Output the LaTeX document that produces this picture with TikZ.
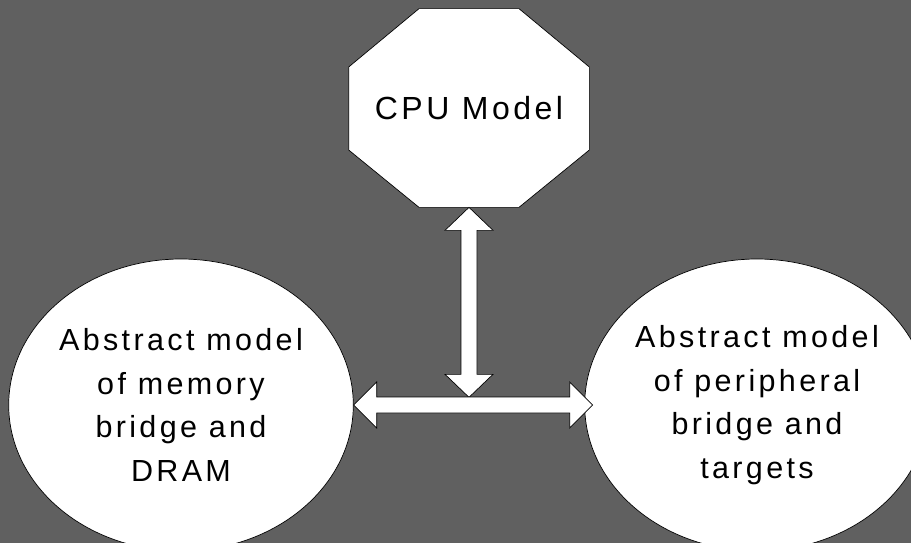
\documentclass[tikz,border=0pt]{standalone}
\usepackage{fontspec}
\setmainfont{Liberation Sans}[LetterSpace=11]
\usetikzlibrary{shapes.geometric}
\definecolor{bggray}{RGB}{96,96,96}
\tikzset{
  bubble/.style={ellipse, draw=black, fill=white, inner sep=0pt,
    minimum width=338pt, minimum height=292pt, align=center},
  blockarrow/.style={draw=black, fill=white, line width=0.7pt, line join=miter}
}
\begin{document}
\begin{tikzpicture}[x=1pt, y=-1pt, line width=0.7pt,
    font=\fontsize{30.5}{43.7}\selectfont]
    % Fondo
    \fill[bggray] (0,0) rectangle (911,543);
    \useasboundingbox (0,0) rectangle (911,543);
    \clip (0,0) rectangle (911,543);

    % Nodos
    \node[minimum width=240pt, minimum height=198pt, inner sep=0pt] (cpu) at (469,108) {};
    \draw[fill=white] ([xshift=-50pt]cpu.north) -- ([xshift=50pt]cpu.north)
        -- ([yshift=41pt]cpu.east) -- ([yshift=-42pt]cpu.east)
        -- ([xshift=50pt]cpu.south) -- ([xshift=-50pt]cpu.south)
        -- ([yshift=-42pt]cpu.west) -- ([yshift=41pt]cpu.west) -- cycle;
    \node[font=\fontsize{32}{40}\selectfont] at (cpu.center) {CPU Model};

    \node[bubble] (mem) at (181,405) {Abstract model\\of memory\\bridge and\\DRAM};
    \node[bubble] (periph) at (757,405) {Abstract model\\of peripheral\\bridge and\\targets};

    % Flechas
    \draw[blockarrow] (cpu.south) -- ++(-24,23) -- ++(16,0) -- ++(0,144) -- ++(-16,0)
        -- ++(24,23) -- ++(24,-23) -- ++(-16,0) -- ++(0,-144) -- ++(16,0) -- cycle;
    \draw[blockarrow] (mem.east) -- ++(23,-23) -- ++(0,15) -- ++(193,0) -- ++(0,-15)
        -- ++(23,23) -- ++(-23,23) -- ++(0,-15) -- ++(-193,0) -- ++(0,15) -- cycle;
\end{tikzpicture}
\end{document}
